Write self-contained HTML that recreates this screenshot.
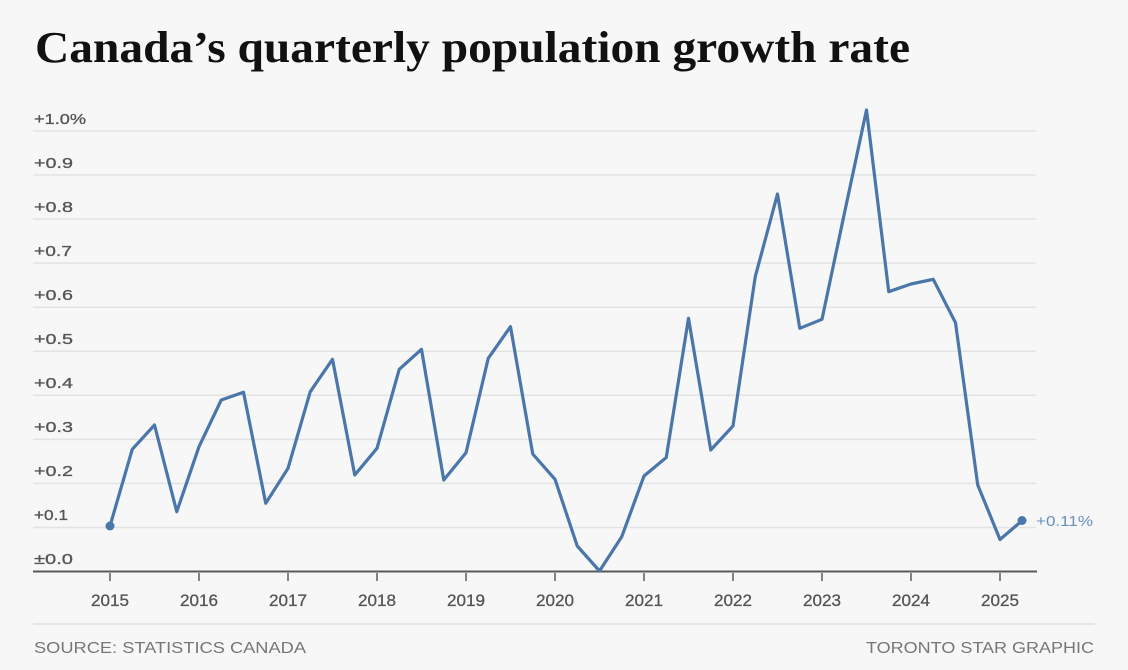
<!DOCTYPE html>
<html>
<head>
<meta charset="utf-8">
<style>
  html, body { margin:0; padding:0; background:#f7f7f7; }
  body { width:1128px; height:670px; overflow:hidden; }
  svg { display:block; }
</style>
</head>
<body>
<svg width="1128" height="670" viewBox="0 0 1128 670" xmlns="http://www.w3.org/2000/svg">
  <rect x="0" y="0" width="1128" height="670" fill="#f7f7f7"/>
  <text x="35" y="62" font-family="'Liberation Serif', serif" font-weight="bold" font-size="44" fill="#111" textLength="875" lengthAdjust="spacingAndGlyphs">Canada’s quarterly population growth rate</text>

  <!-- gridlines -->
  <g stroke="#e3e3e3" stroke-width="1.5">
    <line x1="33" x2="1036" y1="131" y2="131"/>
    <line x1="33" x2="1036" y1="175.05" y2="175.05"/>
    <line x1="33" x2="1036" y1="219.1" y2="219.1"/>
    <line x1="33" x2="1036" y1="263.15" y2="263.15"/>
    <line x1="33" x2="1036" y1="307.2" y2="307.2"/>
    <line x1="33" x2="1036" y1="351.25" y2="351.25"/>
    <line x1="33" x2="1036" y1="395.3" y2="395.3"/>
    <line x1="33" x2="1036" y1="439.35" y2="439.35"/>
    <line x1="33" x2="1036" y1="483.4" y2="483.4"/>
    <line x1="33" x2="1036" y1="527.45" y2="527.45"/>
  </g>

  <!-- y labels -->
  <g font-family="'Liberation Sans', sans-serif" font-size="15" fill="#555" stroke="#555" stroke-width="0.3">
    <text x="34" y="124" textLength="52" lengthAdjust="spacingAndGlyphs">+1.0%</text>
    <text x="34" y="168" textLength="39" lengthAdjust="spacingAndGlyphs">+0.9</text>
    <text x="34" y="212" textLength="39" lengthAdjust="spacingAndGlyphs">+0.8</text>
    <text x="34" y="256" textLength="38" lengthAdjust="spacingAndGlyphs">+0.7</text>
    <text x="34" y="300" textLength="39" lengthAdjust="spacingAndGlyphs">+0.6</text>
    <text x="34" y="344" textLength="39" lengthAdjust="spacingAndGlyphs">+0.5</text>
    <text x="34" y="388" textLength="39" lengthAdjust="spacingAndGlyphs">+0.4</text>
    <text x="34" y="432" textLength="39" lengthAdjust="spacingAndGlyphs">+0.3</text>
    <text x="34" y="476" textLength="39" lengthAdjust="spacingAndGlyphs">+0.2</text>
    <text x="34" y="520" textLength="34" lengthAdjust="spacingAndGlyphs">+0.1</text>
    <text x="34" y="564" textLength="39" lengthAdjust="spacingAndGlyphs">±0.0</text>
  </g>

  <!-- axis -->
  <line x1="33" x2="1037" y1="571.5" y2="571.5" stroke="#5a5a5a" stroke-width="2"/>
  <g stroke="#5a5a5a" stroke-width="1.5">
    <line x1="110" x2="110" y1="573" y2="581"/>
    <line x1="199" x2="199" y1="573" y2="581"/>
    <line x1="288" x2="288" y1="573" y2="581"/>
    <line x1="377" x2="377" y1="573" y2="581"/>
    <line x1="466" x2="466" y1="573" y2="581"/>
    <line x1="555" x2="555" y1="573" y2="581"/>
    <line x1="644" x2="644" y1="573" y2="581"/>
    <line x1="733" x2="733" y1="573" y2="581"/>
    <line x1="822" x2="822" y1="573" y2="581"/>
    <line x1="911" x2="911" y1="573" y2="581"/>
    <line x1="1000" x2="1000" y1="573" y2="581"/>
  </g>
  <g font-family="'Liberation Sans', sans-serif" font-size="16.5" fill="#555" stroke="#555" stroke-width="0.3" text-anchor="middle">
    <text x="110" y="606" textLength="38" lengthAdjust="spacingAndGlyphs">2015</text>
    <text x="199" y="606" textLength="38" lengthAdjust="spacingAndGlyphs">2016</text>
    <text x="288" y="606" textLength="38" lengthAdjust="spacingAndGlyphs">2017</text>
    <text x="377" y="606" textLength="38" lengthAdjust="spacingAndGlyphs">2018</text>
    <text x="466" y="606" textLength="38" lengthAdjust="spacingAndGlyphs">2019</text>
    <text x="555" y="606" textLength="38" lengthAdjust="spacingAndGlyphs">2020</text>
    <text x="644" y="606" textLength="38" lengthAdjust="spacingAndGlyphs">2021</text>
    <text x="733" y="606" textLength="38" lengthAdjust="spacingAndGlyphs">2022</text>
    <text x="822" y="606" textLength="38" lengthAdjust="spacingAndGlyphs">2023</text>
    <text x="911" y="606" textLength="38" lengthAdjust="spacingAndGlyphs">2024</text>
    <text x="1000" y="606" textLength="38" lengthAdjust="spacingAndGlyphs">2025</text>
  </g>

  <!-- series -->
  <polyline fill="none" stroke="#4a76aa" stroke-width="3.2" stroke-linejoin="round" stroke-linecap="round"
    points="110,526 132.25,449.3 154.5,425 176.75,511.7 199,446.7 221.25,400 243.5,392.3 265.75,503.3 288,468.3 310.25,391.7 332.5,359.3 354.75,475 377,448.3 399.25,369.3 421.5,349.3 443.75,480 466,452.7 488.25,358.3 510.5,326.7 532.75,454 555,479.3 577.25,546 599.5,571 621.75,536.7 644,476 666.25,457.5 688.5,318.3 710.75,450 733,426 755.25,276.7 777.5,194 799.75,328.3 822,319.3 844.25,214 866.5,110 888.75,291.7 911,284 933.25,279.3 955.5,322.7 977.75,485 1000,539.5 1022.25,520.5"/>
  <circle cx="110" cy="526" r="4.5" fill="#4a76aa"/>
  <circle cx="1022" cy="520.5" r="4.5" fill="#4a76aa"/>
  <text x="1036" y="526" font-family="'Liberation Sans', sans-serif" font-size="15" fill="#6a90bd" textLength="57" lengthAdjust="spacingAndGlyphs">+0.11%</text>

  <!-- footer -->
  <line x1="33" x2="1095" y1="624" y2="624" stroke="#e0e0e0" stroke-width="1.5"/>
  <g font-family="'Liberation Sans', sans-serif" font-size="15.5" fill="#777">
    <text x="34" y="653" textLength="272" lengthAdjust="spacingAndGlyphs">SOURCE: STATISTICS CANADA</text>
    <text x="866" y="653" textLength="228" lengthAdjust="spacingAndGlyphs">TORONTO STAR GRAPHIC</text>
  </g>
</svg>
</body>
</html>
